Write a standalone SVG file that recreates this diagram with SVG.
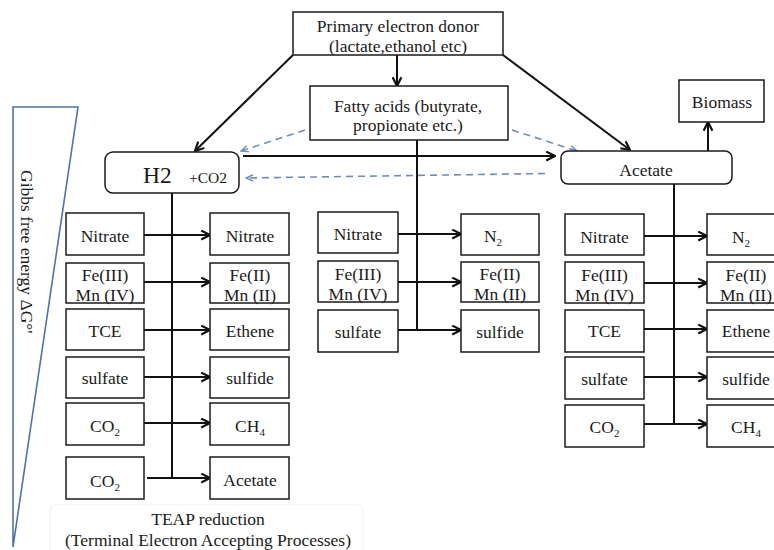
<svg xmlns="http://www.w3.org/2000/svg" width="774" height="550" viewBox="0 0 774 550">
<style>
  text { font-family: "Liberation Serif", "Times New Roman", serif; fill: #1a1a1a; }
  .t { font-size: 17.5px; text-anchor: middle; }
  .box { fill: #ffffff; stroke: #1a1a1a; stroke-width: 1.5; }
  .con { stroke: #111; stroke-width: 2; fill: none; }
  .dash { stroke: #6b8dc0; stroke-width: 1.6; fill: none; stroke-dasharray: 7 5; }
  .sub { font-size: 11px; }
</style>
<defs>
  <marker id="ah" viewBox="0 0 10 10" refX="9" refY="5" markerWidth="11" markerHeight="11" markerUnits="userSpaceOnUse" orient="auto">
    <path d="M1,1 L9,5 L1,9" fill="none" stroke="#111" stroke-width="2"/>
  </marker>
  <marker id="ahb" viewBox="0 0 10 10" refX="9" refY="5" markerWidth="9" markerHeight="9" markerUnits="userSpaceOnUse" orient="auto">
    <path d="M1,1.5 L9,5 L1,8.5" fill="none" stroke="#6b8dc0" stroke-width="1.6"/>
  </marker>
</defs>

<!-- Gibbs free energy wedge -->
<g id="gibbs">
  <polygon points="13,107 78,107 13,547" fill="#ffffff" stroke="#4f72a8" stroke-width="1.6"/>
  <text transform="translate(21,170) rotate(90)" style="font-size:17.5px">Gibbs free energy ΔG°'</text>
</g>

<!-- connectors -->
<g id="connectors">
  <line class="con" x1="397" y1="55" x2="397" y2="86" marker-end="url(#ah)"/>
  <line class="con" x1="293" y1="55" x2="195" y2="151" marker-end="url(#ah)"/>
  <line class="con" x1="503" y1="55" x2="630" y2="150" marker-end="url(#ah)"/>
  <line class="con" x1="243" y1="156" x2="555" y2="156" marker-end="url(#ah)"/>
  <line class="con" x1="708" y1="151" x2="708" y2="122" marker-end="url(#ah)"/>
  <line class="dash" x1="305" y1="130" x2="241" y2="151" marker-end="url(#ahb)"/>
  <line class="dash" x1="512" y1="130" x2="577" y2="151" marker-end="url(#ahb)"/>
  <line class="dash" x1="545" y1="173.5" x2="246" y2="178" marker-end="url(#ahb)"/>

  <!-- left column -->
  <line class="con" x1="172" y1="193" x2="172" y2="478"/>
  <line class="con" x1="144" y1="235" x2="210" y2="235" marker-end="url(#ah)"/>
  <line class="con" x1="144" y1="282" x2="210" y2="282" marker-end="url(#ah)"/>
  <line class="con" x1="144" y1="330" x2="210" y2="330" marker-end="url(#ah)"/>
  <line class="con" x1="144" y1="377" x2="210" y2="377" marker-end="url(#ah)"/>
  <line class="con" x1="144" y1="423" x2="210" y2="423" marker-end="url(#ah)"/>
  <line class="con" x1="147" y1="478" x2="210" y2="478" marker-end="url(#ah)"/>

  <!-- middle column -->
  <line class="con" x1="417" y1="140" x2="417" y2="330"/>
  <line class="con" x1="398" y1="234" x2="461" y2="234" marker-end="url(#ah)"/>
  <line class="con" x1="398" y1="282" x2="461" y2="282" marker-end="url(#ah)"/>
  <line class="con" x1="398" y1="330" x2="461" y2="330" marker-end="url(#ah)"/>

  <!-- right column -->
  <line class="con" x1="674" y1="184" x2="674" y2="424"/>
  <line class="con" x1="644" y1="236" x2="707" y2="236" marker-end="url(#ah)"/>
  <line class="con" x1="644" y1="283" x2="707" y2="283" marker-end="url(#ah)"/>
  <line class="con" x1="644" y1="329" x2="707" y2="329" marker-end="url(#ah)"/>
  <line class="con" x1="644" y1="377" x2="707" y2="377" marker-end="url(#ah)"/>
  <line class="con" x1="644" y1="424" x2="707" y2="424" marker-end="url(#ah)"/>
</g>

<!-- top nodes -->
<g id="primary">
  <rect class="box" x="293" y="12" width="210" height="43"/>
  <text class="t" x="398" y="31.5">Primary electron donor</text>
  <text class="t" x="398" y="52">(lactate,ethanol etc)</text>
</g>
<g id="fatty">
  <rect class="box" x="310" y="86" width="198" height="54"/>
  <text class="t" x="408" y="111.5">Fatty acids (butyrate,</text>
  <text class="t" x="408" y="131">propionate etc.)</text>
</g>
<g id="h2">
  <rect class="box" x="105" y="152" width="134" height="41" rx="8"/>
  <text x="143" y="183" style="font-size:23.5px">H2</text>
  <text x="189" y="183" style="font-size:15.5px">+CO2</text>
</g>
<g id="acetate-top">
  <rect class="box" x="561" y="151" width="171" height="33" rx="7"/>
  <text class="t" x="646" y="175.5">Acetate</text>
</g>
<g id="biomass">
  <rect class="box" x="679" y="80" width="85" height="42"/>
  <text class="t" x="722" y="107.5">Biomass</text>
</g>

<!-- left column nodes -->
<g id="l-nitrate-in"><rect class="box" x="66" y="213" width="78" height="42"/><text class="t" x="105" y="241.5">Nitrate</text></g>
<g id="l-fe-in"><rect class="box" x="66" y="263" width="78" height="40"/><text class="t" x="105" y="281">Fe(III)</text><text class="t" x="105" y="300.5">Mn (IV)</text></g>
<g id="l-tce-in"><rect class="box" x="66" y="309" width="78" height="41"/><text class="t" x="105" y="336.5">TCE</text></g>
<g id="l-sulfate-in"><rect class="box" x="66" y="357" width="78" height="41"/><text class="t" x="105" y="383.5">sulfate</text></g>
<g id="l-co2-in"><rect class="box" x="66" y="403" width="78" height="42"/><text class="t" x="105" y="432">CO<tspan class="sub" dy="4">2</tspan></text></g>
<g id="l-co2b-in"><rect class="box" x="66" y="457" width="78" height="42"/><text class="t" x="105" y="487">CO<tspan class="sub" dy="4">2</tspan></text></g>

<g id="l-nitrate-out"><rect class="box" x="210" y="213" width="79" height="42"/><text class="t" x="250" y="241.5">Nitrate</text></g>
<g id="l-fe-out"><rect class="box" x="210" y="263" width="79" height="40"/><text class="t" x="250" y="281">Fe(II)</text><text class="t" x="250" y="300.5">Mn (II)</text></g>
<g id="l-ethene-out"><rect class="box" x="210" y="309" width="79" height="41"/><text class="t" x="250" y="336.5">Ethene</text></g>
<g id="l-sulfide-out"><rect class="box" x="210" y="357" width="79" height="41"/><text class="t" x="250" y="383.5">sulfide</text></g>
<g id="l-ch4-out"><rect class="box" x="210" y="403" width="79" height="42"/><text class="t" x="250" y="432">CH<tspan class="sub" dy="4">4</tspan></text></g>
<g id="l-acetate-out"><rect class="box" x="210" y="457" width="79" height="42"/><text class="t" x="250" y="486">Acetate</text></g>

<!-- middle column nodes -->
<g id="m-nitrate-in"><rect class="box" x="318" y="212" width="80" height="41"/><text class="t" x="358" y="240">Nitrate</text></g>
<g id="m-fe-in"><rect class="box" x="318" y="261" width="80" height="41"/><text class="t" x="358" y="280">Fe(III)</text><text class="t" x="358" y="299.5">Mn (IV)</text></g>
<g id="m-sulfate-in"><rect class="box" x="318" y="310" width="80" height="42"/><text class="t" x="358" y="337.5">sulfate</text></g>
<g id="m-n2-out"><rect class="box" x="461" y="214" width="78" height="41"/><text class="t" x="493" y="241.5">N<tspan class="sub" dy="4">2</tspan></text></g>
<g id="m-fe-out"><rect class="box" x="461" y="262" width="78" height="40"/><text class="t" x="500" y="280">Fe(II)</text><text class="t" x="500" y="299.5">Mn (II)</text></g>
<g id="m-sulfide-out"><rect class="box" x="461" y="310" width="78" height="42"/><text class="t" x="500" y="337.5">sulfide</text></g>

<!-- right column nodes -->
<g id="r-nitrate-in"><rect class="box" x="565" y="214" width="79" height="41"/><text class="t" x="604.5" y="243">Nitrate</text></g>
<g id="r-fe-in"><rect class="box" x="565" y="262" width="79" height="41"/><text class="t" x="604.5" y="281">Fe(III)</text><text class="t" x="604.5" y="300.5">Mn (IV)</text></g>
<g id="r-tce-in"><rect class="box" x="565" y="310" width="79" height="42"/><text class="t" x="604.5" y="337">TCE</text></g>
<g id="r-sulfate-in"><rect class="box" x="565" y="357" width="79" height="42"/><text class="t" x="604.5" y="384.5">sulfate</text></g>
<g id="r-co2-in"><rect class="box" x="565" y="405" width="79" height="42"/><text class="t" x="604.5" y="433">CO<tspan class="sub" dy="4">2</tspan></text></g>
<g id="r-n2-out"><rect class="box" x="707" y="214" width="78" height="41"/><text class="t" x="741" y="243">N<tspan class="sub" dy="4">2</tspan></text></g>
<g id="r-fe-out"><rect class="box" x="707" y="262" width="78" height="41"/><text class="t" x="746" y="281">Fe(II)</text><text class="t" x="746" y="300.5">Mn (II)</text></g>
<g id="r-ethene-out"><rect class="box" x="707" y="310" width="78" height="42"/><text class="t" x="746" y="337">Ethene</text></g>
<g id="r-sulfide-out"><rect class="box" x="707" y="357" width="78" height="42"/><text class="t" x="746" y="384.5">sulfide</text></g>
<g id="r-ch4-out"><rect class="box" x="707" y="405" width="78" height="42"/><text class="t" x="746" y="433">CH<tspan class="sub" dy="4">4</tspan></text></g>

<!-- caption -->
<g id="teap">
  <rect x="50" y="505" width="313" height="60" rx="6" fill="none" stroke="#efefef" stroke-width="1"/>
  <text class="t" x="208" y="525">TEAP reduction</text>
  <text class="t" x="208" y="545.5">(Terminal Electron Accepting Processes)</text>
</g>
</svg>
